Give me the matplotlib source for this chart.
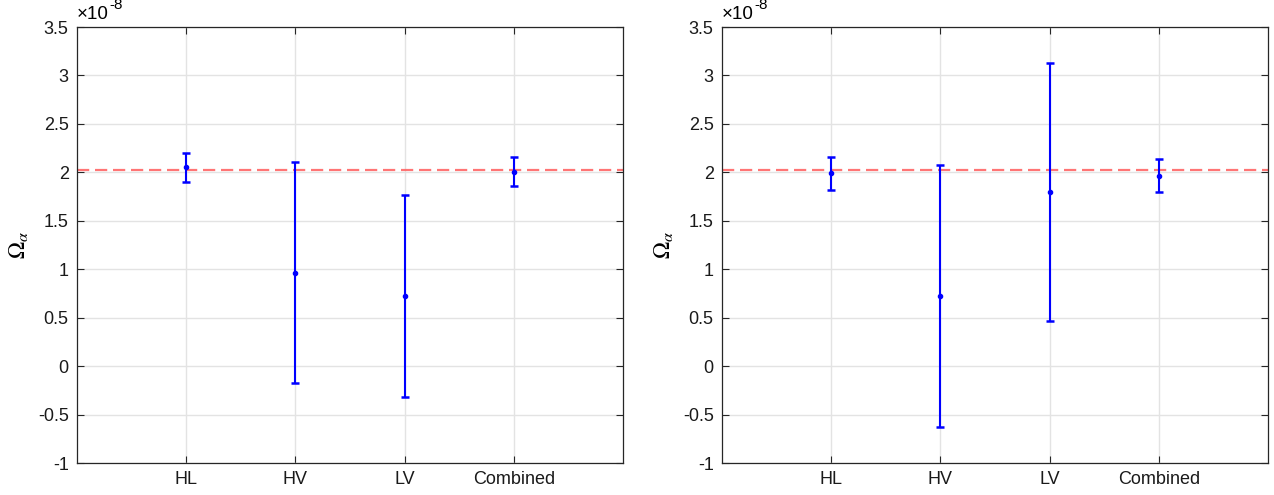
import numpy as np
import matplotlib.pyplot as plt
from matplotlib.ticker import FuncFormatter

plt.rcParams['font.family'] = ['Liberation Sans', 'DejaVu Sans']
plt.rcParams['mathtext.fontset'] = 'stix'
plt.rcParams['axes.unicode_minus'] = False

# Estimaciones de Omega_alpha (en unidades de 1e-8)
detectores = ['HL', 'HV', 'LV', 'Combined']
omega_ref = 2.02

izq_val = [2.058, 0.966, 0.719, 2.007]
izq_sup = [2.202, 2.106, 1.764, 2.158]
izq_inf = [1.904, -0.171, -0.318, 1.863]

der_val = [1.993, 0.720, 1.801, 1.966]
der_sup = [2.161, 2.072, 3.125, 2.137]
der_inf = [1.822, -0.628, 0.470, 1.801]

paneles = [(izq_val, izq_sup, izq_inf), (der_val, der_sup, der_inf)]

fig = plt.figure(figsize=(12.74, 4.95), dpi=100)
posiciones = [[77 / 1274, 32 / 495, 546 / 1274, 436 / 495],
              [722 / 1274, 32 / 495, 546 / 1274, 436 / 495]]

x = np.arange(1, len(detectores) + 1)
for pos, (val, sup, inf) in zip(posiciones, paneles):
    ax = fig.add_axes(pos)
    val = np.array(val)
    err = [val - np.array(inf), np.array(sup) - val]

    ax.axhline(omega_ref, color=(1, 0.4, 0.4), lw=1.6, ls=(0, (5.5, 2.6)), alpha=0.9, zorder=2)
    ax.errorbar(x, val, yerr=err, fmt='.', color='blue', ms=6, lw=1.5,
                capsize=3.2, capthick=1.8, zorder=3)

    ax.set_xlim(0, 5)
    ax.set_ylim(-1, 3.5)
    ax.set_xticks(x)
    ax.set_xticklabels(detectores)
    ax.set_yticks(np.arange(-1, 3.51, 0.5))
    ax.yaxis.set_major_formatter(FuncFormatter(lambda v, p: '%g' % v))
    ax.grid(True, color='#e3e3e3', lw=1)
    ax.set_axisbelow(True)
    ax.tick_params(direction='in', length=5, width=0.8, top=True, right=True,
                   labelsize=13, colors='#262626', labelcolor='#1a1a1a', pad=6)
    for s in ax.spines.values():
        s.set_linewidth(0.9)
        s.set_color('#262626')
    ax.set_ylabel(r'$\Omega_\alpha$', fontsize=16.5)
    ax.yaxis.set_label_coords(-0.086, 0.5)

    # factor de escala del eje y
    ax.annotate('\u00d710', xy=(0, 1), xycoords='axes fraction', xytext=(0, 3),
                textcoords='offset points', fontsize=13.5, ha='left', va='bottom')
    ax.annotate('-8', xy=(0, 1), xycoords='axes fraction', xytext=(23.5, 11),
                textcoords='offset points', fontsize=11, ha='left', va='bottom')

plt.savefig('out.png', dpi=100)
